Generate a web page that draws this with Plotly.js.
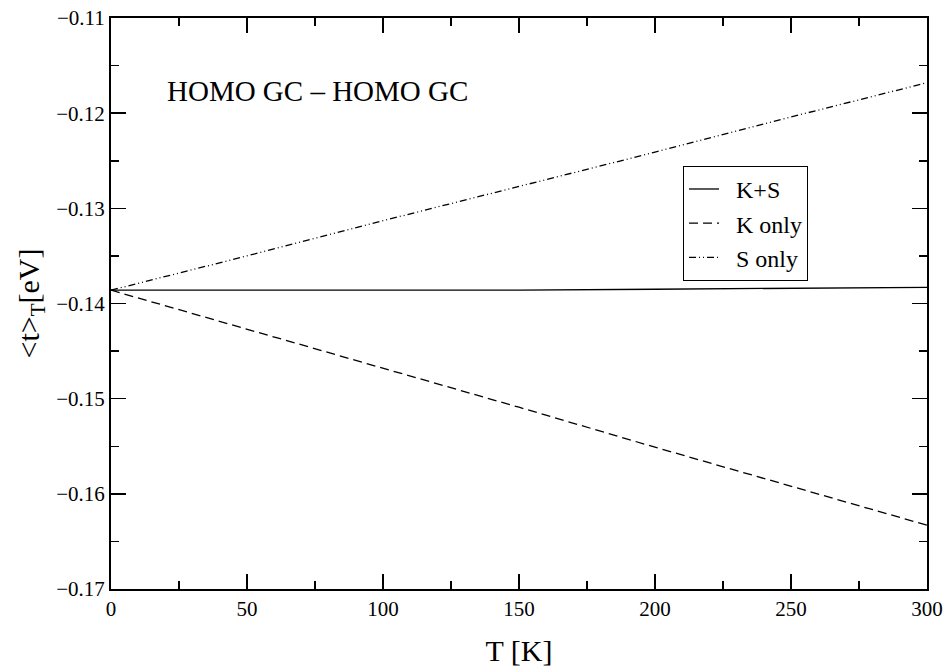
<!DOCTYPE html>
<html>
<head>
<meta charset="utf-8">
<script src="https://cdn.plot.ly/plotly-3.0.1.min.js"></script>
<style>html,body{margin:0;padding:0;background:#fff;}</style>
</head>
<body>
<div id="chart" style="width:950px;height:668px;"></div>
<script>
const temperature = [0, 50, 100, 150, 200, 250, 300];
const kPlusS = [-0.1386, -0.1386, -0.1386, -0.1386, -0.1385, -0.1384, -0.1383];
const kOnly = [-0.1386, -0.1427, -0.1468, -0.1509, -0.1551, -0.1592, -0.1633];
const sOnly = [-0.1386, -0.1350, -0.1313, -0.1277, -0.1241, -0.1204, -0.1168];
const seriesNames = ['K+S', 'K only', 'S only'];
const xTicks = [0, 50, 100, 150, 200, 250, 300];
const yTicks = [-0.17, -0.16, -0.15, -0.14, -0.13, -0.12, -0.11];

const font = '"Liberation Serif", "Times New Roman", Times, "DejaVu Serif", serif';
const pad = '\u00a0\u00a0';
const traces = [
  {x: temperature, y: kPlusS, name: pad + seriesNames[0], mode: 'lines', line: {color: '#000', width: 1.3, dash: 'solid'}},
  {x: temperature, y: kOnly, name: pad + seriesNames[1], mode: 'lines', line: {color: '#000', width: 1.3, dash: '9px,5px'}},
  {x: temperature, y: sOnly, name: pad + seriesNames[2], mode: 'lines', line: {color: '#000', width: 1.3, dash: '7px,3px,1px,3px,1px,3px'}}
];
const axisCommon = {
  showgrid: false, zeroline: false, showline: true, linecolor: '#000', linewidth: 2,
  mirror: 'allticks', ticks: 'inside', ticklen: 15, tickwidth: 1.5, tickcolor: '#000',
  tickfont: {family: font, size: 21, color: '#000'}, automargin: false
};
const layout = {
  width: 950, height: 668,
  margin: {l: 111, r: 23, t: 18, b: 79},
  paper_bgcolor: '#fff', plot_bgcolor: '#fff',
  font: {family: font, color: '#000'},
  xaxis: Object.assign({}, axisCommon, {
    range: [0, 300], tickvals: xTicks, ticktext: xTicks.map(String),
    minor: {dtick: 25, ticks: 'inside', ticklen: 8, tickwidth: 1.5, tickcolor: '#000'},
    title: {text: 'T [K]', font: {family: font, size: 30, color: '#000'}, standoff: 20}
  }),
  yaxis: Object.assign({}, axisCommon, {
    range: [-0.17, -0.11], tickvals: yTicks, ticktext: yTicks.map(v => '\u2212' + Math.abs(v).toFixed(2)),
    minor: {dtick: 0.005, ticks: 'inside', ticklen: 8, tickwidth: 1.5, tickcolor: '#000'},
    title: {text: '&lt;t&gt;<sub>T</sub>[eV]', font: {family: font, size: 30, color: '#000'}, standoff: 8}
  }),
  showlegend: true,
  legend: {
    x: 0.701, y: 0.741, xanchor: 'left', yanchor: 'top',
    bgcolor: '#fff', bordercolor: '#000', borderwidth: 1,
    font: {family: font, size: 24, color: '#000'},
    tracegroupgap: 0, itemwidth: 30
  },
  annotations: [{
    xref: 'paper', yref: 'paper', x: 0.066, y: 0.873, xanchor: 'left', yanchor: 'middle',
    text: 'HOMO GC \u2013 HOMO GC', showarrow: false,
    font: {family: font, size: 29, color: '#000'}
  }]
};
Plotly.newPlot('chart', traces, layout, {displayModeBar: false, staticPlot: true});
</script>
</body>
</html>
